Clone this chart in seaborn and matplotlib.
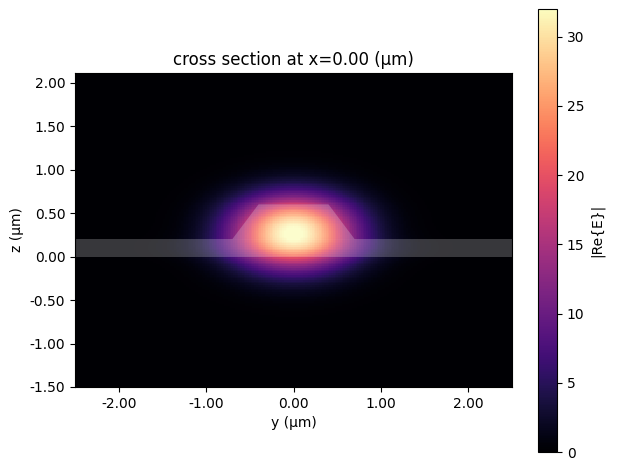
import numpy as np
import matplotlib
matplotlib.use("Agg")
import matplotlib.pyplot as plt
from matplotlib.patches import Polygon, Rectangle
from matplotlib.ticker import FormatStrFormatter
import seaborn as sns

# simulation window (um)
y_span = [-2.5, 2.5]
z_span = [-1.5, 2.11]
cell = 0.02

# mode parameters
peak = 32.0
y0, z0 = 0.0, 0.30
wy = 0.68
wz_up, wz_down = 0.39, 0.42
slab_amp, slab_wy, slab_wz = 3.0, 1.0, 0.15

# waveguide geometry
slab_z = [0.0, 0.2]
rib_bottom = [-0.7, 0.7]
rib_top = [-0.4, 0.4]
rib_z = [0.2, 0.6]

vmax = 32
cbar_ticks = [0, 5, 10, 15, 20, 25, 30]

y = np.arange(y_span[0], y_span[1] + cell, cell)
z = np.arange(z_span[0], z_span[1] + cell, cell)
Y, Z = np.meshgrid(y, z)
wz = np.where(Z > z0, wz_up, wz_down)
field = peak * np.exp(-((Y - y0) / wy) ** 2) * np.exp(-((Z - z0) / wz) ** 2)
field += slab_amp * np.exp(-(Y / slab_wy) ** 2) * np.exp(-((Z - 0.1) / slab_wz) ** 2)
field = np.clip(field, 0, peak)

cmap = sns.color_palette("magma", as_cmap=True)

fig = plt.figure(figsize=(6.17, 4.69), dpi=100)
ax = fig.add_axes([75 / 617, 82 / 469, 437 / 617, 314 / 469])
cax = fig.add_axes([538 / 617, 17 / 469, 19 / 617, 443 / 469])

mesh = ax.pcolormesh(y, z, field, cmap=cmap, vmin=0, vmax=vmax, shading="nearest")

# structure overlay
ax.add_patch(Rectangle((y_span[0], slab_z[0]), y_span[1] - y_span[0], slab_z[1] - slab_z[0],
                       facecolor="white", alpha=0.22, edgecolor="none"))
rib = [(rib_bottom[0], rib_z[0]), (rib_bottom[1], rib_z[0]),
       (rib_top[1], rib_z[1]), (rib_top[0], rib_z[1])]
ax.add_patch(Polygon(rib, closed=True, facecolor="white", alpha=0.22, edgecolor="none"))

ax.set_xlim(y_span)
ax.set_ylim(z_span)
ax.set_xticks([-2, -1, 0, 1, 2])
ax.set_yticks([-1.5, -1.0, -0.5, 0, 0.5, 1.0, 1.5, 2.0])
ax.xaxis.set_major_formatter(FormatStrFormatter("%.2f"))
ax.yaxis.set_major_formatter(FormatStrFormatter("%.2f"))
ax.set_xlabel("y (μm)")
ax.set_ylabel("z (μm)")
ax.set_title("cross section at x=0.00 (μm)")

cb = fig.colorbar(mesh, cax=cax)
cb.set_ticks(cbar_ticks)
cb.set_label("|Re{E}|")

fig.savefig("out.png", dpi=100)
